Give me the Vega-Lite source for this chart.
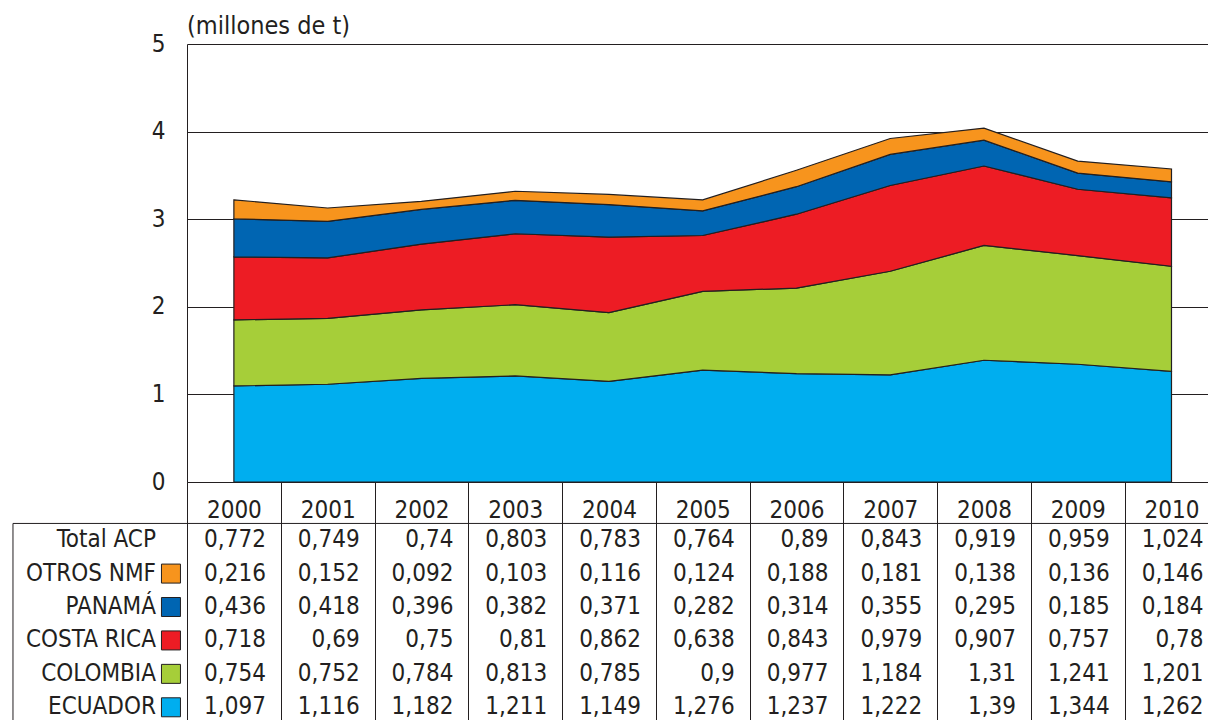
{
  "$schema": "https://vega.github.io/schema/vega-lite/v6.json",
  "padding": {"left": 12, "top": 14, "right": 0, "bottom": 0},
  "spacing": 0,
  "bounds": "flush",
  "datasets": {
    "t": [
      {"year": 2000, "Total ACP": 0.772, "OTROS NMF": 0.216, "PANAMÁ": 0.436, "COSTA RICA": 0.718, "COLOMBIA": 0.754, "ECUADOR": 1.097},
      {"year": 2001, "Total ACP": 0.749, "OTROS NMF": 0.152, "PANAMÁ": 0.418, "COSTA RICA": 0.69, "COLOMBIA": 0.752, "ECUADOR": 1.116},
      {"year": 2002, "Total ACP": 0.74, "OTROS NMF": 0.092, "PANAMÁ": 0.396, "COSTA RICA": 0.75, "COLOMBIA": 0.784, "ECUADOR": 1.182},
      {"year": 2003, "Total ACP": 0.803, "OTROS NMF": 0.103, "PANAMÁ": 0.382, "COSTA RICA": 0.81, "COLOMBIA": 0.813, "ECUADOR": 1.211},
      {"year": 2004, "Total ACP": 0.783, "OTROS NMF": 0.116, "PANAMÁ": 0.371, "COSTA RICA": 0.862, "COLOMBIA": 0.785, "ECUADOR": 1.149},
      {"year": 2005, "Total ACP": 0.764, "OTROS NMF": 0.124, "PANAMÁ": 0.282, "COSTA RICA": 0.638, "COLOMBIA": 0.9, "ECUADOR": 1.276},
      {"year": 2006, "Total ACP": 0.89, "OTROS NMF": 0.188, "PANAMÁ": 0.314, "COSTA RICA": 0.843, "COLOMBIA": 0.977, "ECUADOR": 1.237},
      {"year": 2007, "Total ACP": 0.843, "OTROS NMF": 0.181, "PANAMÁ": 0.355, "COSTA RICA": 0.979, "COLOMBIA": 1.184, "ECUADOR": 1.222},
      {"year": 2008, "Total ACP": 0.919, "OTROS NMF": 0.138, "PANAMÁ": 0.295, "COSTA RICA": 0.907, "COLOMBIA": 1.31, "ECUADOR": 1.39},
      {"year": 2009, "Total ACP": 0.959, "OTROS NMF": 0.136, "PANAMÁ": 0.185, "COSTA RICA": 0.757, "COLOMBIA": 1.241, "ECUADOR": 1.344},
      {"year": 2010, "Total ACP": 1.024, "OTROS NMF": 0.146, "PANAMÁ": 0.184, "COSTA RICA": 0.78, "COLOMBIA": 1.201, "ECUADOR": 1.262}
    ],
    "rank": [
      {"series": "ECUADOR", "rank": 1},
      {"series": "COLOMBIA", "rank": 2},
      {"series": "COSTA RICA", "rank": 3},
      {"series": "PANAMÁ", "rank": 4},
      {"series": "OTROS NMF", "rank": 5}
    ]
  },
  "vconcat": [
    {
      "width": 1022,
      "height": 438,
      "title": {"text": "(millones de t)", "anchor": "start", "frame": "group", "fontSize": 25, "fontWeight": "normal", "color": "#231f20", "offset": -7},
      "data": {"name": "t"},
      "transform": [
        {"fold": ["ECUADOR", "COLOMBIA", "COSTA RICA", "PANAMÁ", "OTROS NMF"], "as": ["series", "value"]},
        {"lookup": "series", "from": {"data": {"name": "rank"}, "key": "series", "fields": ["rank"]}}
      ],
      "mark": {"type": "area", "stroke": "#231f20", "strokeWidth": 1.2, "opacity": 1, "interpolate": "linear"},
      "encoding": {
        "x": {
          "field": "year", "type": "quantitative",
          "scale": {"domain": [1999.5, 2010.4], "nice": false, "zero": false},
          "axis": {"values": [2000, 2001, 2002, 2003, 2004, 2005, 2006, 2007, 2008, 2009, 2010], "format": "d", "title": null, "grid": false, "ticks": false, "tickSize": 0, "domain": true, "domainColor": "#231f20", "domainWidth": 1, "labelFontSize": 24, "labelColor": "#231f20", "labelPadding": 28, "labelBaseline": "middle", "labelFlush": false, "labelOverlap": false}
        },
        "y": {
          "field": "value", "type": "quantitative", "stack": "zero",
          "scale": {"domain": [0, 5], "nice": false},
          "axis": {"values": [0, 1, 2, 3, 4, 5], "title": null, "grid": true, "gridColor": "#231f20", "gridOpacity": 1, "gridWidth": 1, "ticks": false, "tickSize": 0, "domain": true, "domainColor": "#231f20", "labelFontSize": 24, "labelColor": "#231f20", "labelPadding": 22}
        },
        "color": {
          "field": "series", "type": "nominal",
          "scale": {"domain": ["ECUADOR", "COLOMBIA", "COSTA RICA", "PANAMÁ", "OTROS NMF"], "range": ["#00AEEF", "#A6CE39", "#ED1C24", "#0065B2", "#F7941D"]},
          "legend": null
        },
        "order": {"field": "rank", "type": "quantitative", "sort": "ascending"}
      }
    },
    {
      "width": 1022,
      "height": 242,
      "data": {"name": "t"},
      "transform": [
        {"fold": ["Total ACP", "OTROS NMF", "PANAMÁ", "COSTA RICA", "COLOMBIA", "ECUADOR"], "as": ["series", "value"]}
      ],
      "layer": [
        {
          "mark": {"type": "text", "fontSize": 24, "align": "right", "baseline": "middle", "dx": 32, "color": "#231f20"},
          "encoding": {
            "x": {
              "field": "year", "type": "quantitative",
              "scale": {"domain": [1999.5, 2010.4], "nice": false, "zero": false},
              "axis": {"values": [1999.5, 2000.5, 2001.5, 2002.5, 2003.5, 2004.5, 2005.5, 2006.5, 2007.5, 2008.5, 2009.5], "grid": true, "gridColor": "#231f20", "gridOpacity": 1, "gridWidth": 1, "labels": false, "ticks": false, "domain": false, "title": null}
            },
            "y": {
              "field": "series", "type": "nominal",
              "scale": {"type": "band", "domain": ["Total ACP", "OTROS NMF", "PANAMÁ", "COSTA RICA", "COLOMBIA", "ECUADOR"], "paddingInner": 0, "paddingOuter": 0.62, "align": 1},
              "axis": null
            },
            "text": {"field": "value", "type": "quantitative", "format": ".3~f"}
          }
        },
        {
          "transform": [{"filter": "datum.year == 2000"}],
          "mark": {"type": "text", "fontSize": 24, "align": "right", "baseline": "middle", "color": "#231f20"},
          "encoding": {
            "x": {"datum": 1999.169, "type": "quantitative", "scale": {"domain": [1999.5, 2010.4], "nice": false, "zero": false}},
            "y": {"field": "series", "type": "nominal"},
            "text": {"field": "series", "type": "nominal"}
          }
        },
        {
          "transform": [{"filter": "datum.year == 2000 && datum.series != 'Total ACP'"}],
          "mark": {"type": "point", "shape": "square", "size": 361, "filled": true, "opacity": 1, "stroke": "#231f20", "strokeWidth": 1},
          "encoding": {
            "x": {"datum": 1999.329, "type": "quantitative", "scale": {"domain": [1999.5, 2010.4], "nice": false, "zero": false}},
            "y": {"field": "series", "type": "nominal"},
            "color": {
              "field": "series", "type": "nominal",
              "scale": {"domain": ["ECUADOR", "COLOMBIA", "COSTA RICA", "PANAMÁ", "OTROS NMF"], "range": ["#00AEEF", "#A6CE39", "#ED1C24", "#0065B2", "#F7941D"]},
              "legend": null
            }
          }
        },
        {
          "data": {"values": [{}]},
          "mark": {"type": "rule", "color": "#231f20", "strokeWidth": 1},
          "encoding": {
            "x": {"datum": 1997.644, "type": "quantitative", "scale": {"domain": [1999.5, 2010.4], "nice": false, "zero": false}},
            "x2": {"datum": 2010.4},
            "y": {"datum": "Total ACP", "type": "nominal", "bandPosition": 0}
          }
        },
        {
          "data": {"values": [{}]},
          "mark": {"type": "rule", "color": "#231f20", "strokeWidth": 1},
          "encoding": {
            "x": {"datum": 1997.644, "type": "quantitative", "scale": {"domain": [1999.5, 2010.4], "nice": false, "zero": false}},
            "y": {"datum": "Total ACP", "type": "nominal", "bandPosition": 0},
            "y2": {"value": "height"}
          }
        }
      ]
    }
  ],
  "config": {
    "view": {"stroke": null},
    "font": "DejaVu Sans Condensed, DejaVu Sans",
    "locale": {"number": {"decimal": ",", "thousands": ".", "grouping": [3], "currency": ["", ""]}}
  }
}
